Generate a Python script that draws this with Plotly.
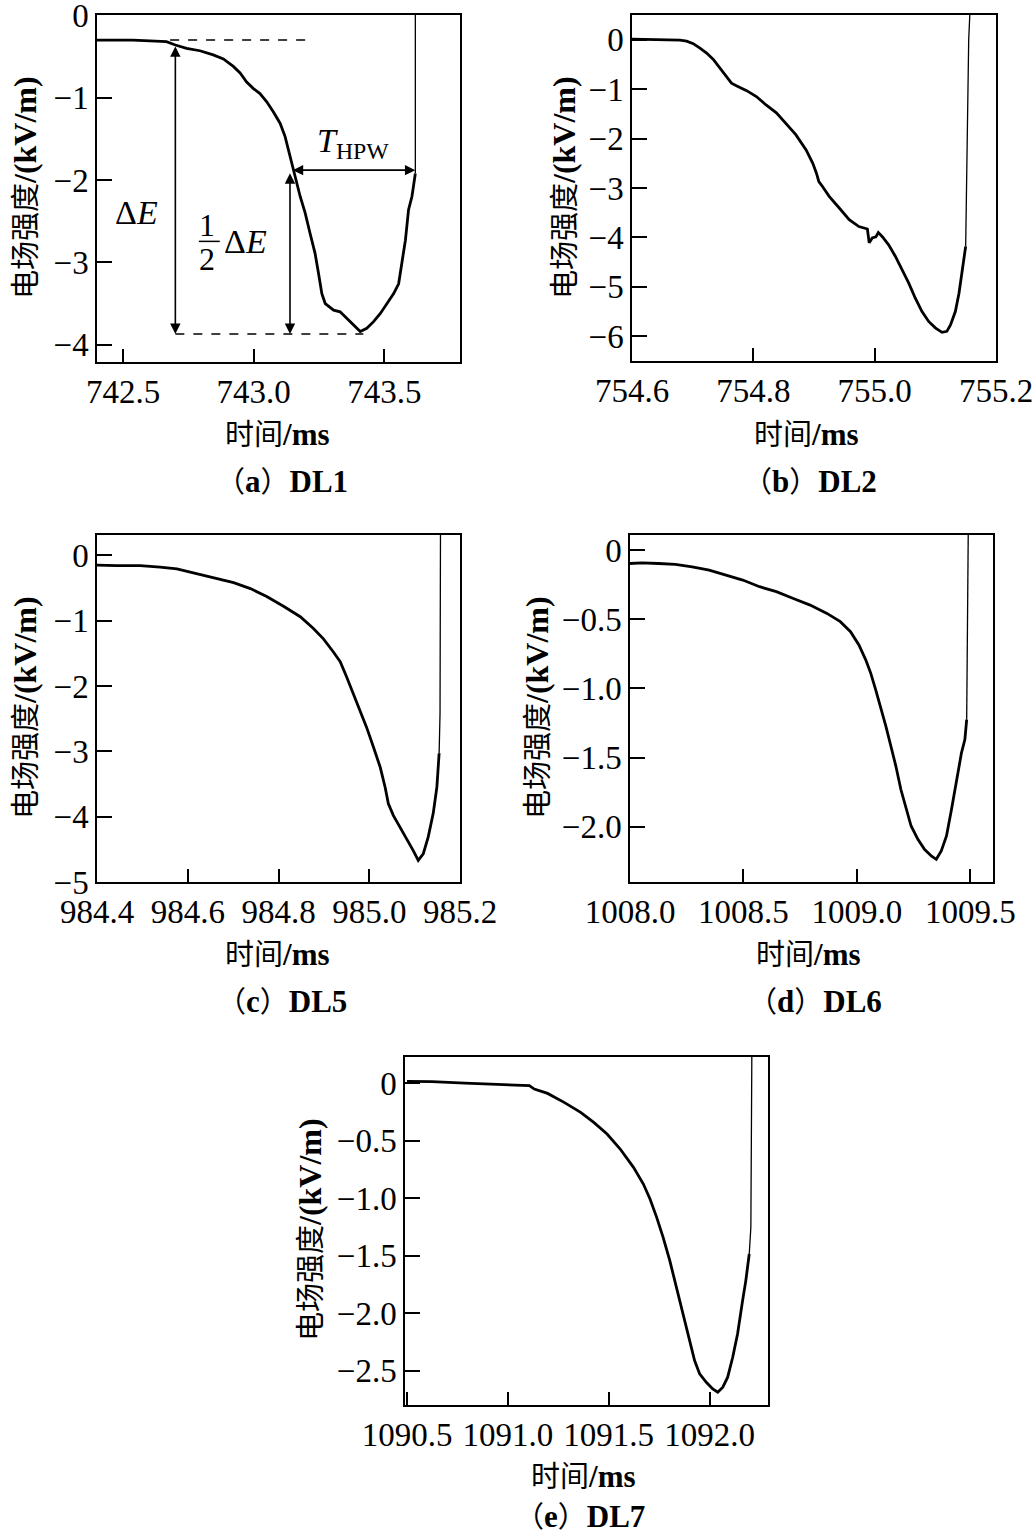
import plotly.graph_objects as go

# ---------------- data ----------------
# (a) DL1
t_a = [742.398, 742.538, 742.666, 742.700, 742.743, 742.794, 742.845, 742.884, 742.922, 742.948,
       742.973, 742.999, 743.024, 743.050, 743.075, 743.101, 743.120, 743.133, 743.146, 743.159,
       743.178, 743.197, 743.216, 743.235, 743.248, 743.261, 743.274, 743.306, 743.331, 743.357,
       743.382, 743.408, 743.433, 743.459, 743.485, 743.510, 743.536, 743.555, 743.568, 743.581,
       743.593, 743.606, 743.619]
e_a = [-0.30, -0.30, -0.32, -0.36, -0.40, -0.43, -0.48, -0.53, -0.62, -0.70,
       -0.81, -0.89, -0.95, -1.05, -1.17, -1.31, -1.47, -1.64, -1.82, -1.96,
       -2.20, -2.40, -2.65, -2.89, -3.13, -3.38, -3.50, -3.58, -3.60, -3.68,
       -3.76, -3.84, -3.80, -3.72, -3.62, -3.50, -3.38, -3.26, -3.01, -2.73,
       -2.36, -2.20, -1.92]
rs_t_a = [743.619, 743.619]
rs_e_a = [-1.92, 0.5]

# (b) DL2
t_b = [754.600, 754.652, 754.679, 754.690, 754.701, 754.712, 754.723, 754.734, 754.745, 754.756,
       754.764, 754.772, 754.789, 754.805, 754.821, 754.838, 754.854, 754.870, 754.887, 754.898,
       754.904, 754.908, 754.914, 754.925, 754.942, 754.958, 754.974, 754.988, 754.991, 754.996,
       755.002, 755.006, 755.013, 755.023, 755.034, 755.045, 755.056, 755.067, 755.078, 755.089,
       755.100, 755.111, 755.119, 755.125, 755.133, 755.139, 755.144, 755.148, 755.150]
e_b = [0.01, 0.00, -0.01, -0.03, -0.08, -0.17, -0.27, -0.40, -0.57, -0.74,
       -0.88, -0.93, -1.03, -1.15, -1.32, -1.48, -1.69, -1.92, -2.23, -2.50,
       -2.70, -2.87, -2.97, -3.17, -3.41, -3.64, -3.78, -3.83, -4.11, -4.01,
       -3.99, -3.90, -3.99, -4.15, -4.38, -4.65, -4.92, -5.23, -5.50, -5.70,
       -5.83, -5.92, -5.90, -5.77, -5.50, -5.13, -4.72, -4.38, -4.18]
rs_t_b = [755.150, 755.152, 755.155, 755.157]
rs_e_b = [-4.18, -2.09, 0.0, 0.55]

# (c) DL5
t_c = [984.400, 984.444, 984.495, 984.539, 984.576, 984.613, 984.657, 984.701, 984.738, 984.774,
       984.811, 984.848, 984.877, 984.899, 984.921, 984.936, 984.950, 984.965, 984.980, 984.994,
       985.009, 985.024, 985.035, 985.042, 985.053, 985.068, 985.083, 985.097, 985.108, 985.119,
       985.130, 985.141, 985.149, 985.154]
e_c = [-0.15, -0.16, -0.16, -0.18, -0.21, -0.27, -0.34, -0.42, -0.51, -0.63,
       -0.78, -0.94, -1.12, -1.28, -1.48, -1.63, -1.86, -2.12, -2.37, -2.63,
       -2.93, -3.24, -3.55, -3.80, -3.98, -4.16, -4.34, -4.52, -4.67, -4.57,
       -4.31, -3.95, -3.55, -3.03]
rs_t_c = [985.154, 985.156, 985.157]
rs_e_c = [-3.03, -2.42, 0.4]

# (d) DL6
t_d = [1008.000, 1008.052, 1008.126, 1008.200, 1008.274, 1008.349, 1008.423, 1008.497, 1008.571, 1008.645,
       1008.720, 1008.794, 1008.868, 1008.927, 1008.972, 1009.009, 1009.039, 1009.061, 1009.083, 1009.105,
       1009.128, 1009.150, 1009.172, 1009.194, 1009.217, 1009.239, 1009.269, 1009.298, 1009.328, 1009.350,
       1009.372, 1009.395, 1009.417, 1009.439, 1009.461, 1009.476, 1009.484]
e_d = [-0.096, -0.091, -0.096, -0.103, -0.120, -0.144, -0.180, -0.216, -0.264, -0.300,
       -0.349, -0.397, -0.457, -0.517, -0.589, -0.685, -0.793, -0.889, -1.010, -1.130,
       -1.274, -1.418, -1.563, -1.731, -1.875, -1.995, -2.091, -2.163, -2.212, -2.236,
       -2.175, -2.067, -1.875, -1.659, -1.466, -1.370, -1.226]
rs_t_d = [1009.484, 1009.488, 1009.491]
rs_e_d = [-1.226, -0.505, 0.15]

# (e) DL7
t_e = [1090.500, 1090.623, 1090.787, 1090.951, 1091.033, 1091.107, 1091.131, 1091.197, 1091.279, 1091.361,
       1091.426, 1091.492, 1091.557, 1091.623, 1091.672, 1091.705, 1091.738, 1091.770, 1091.803, 1091.836,
       1091.869, 1091.902, 1091.926, 1091.951, 1091.984, 1092.016, 1092.041, 1092.066, 1092.090, 1092.115,
       1092.139, 1092.164, 1092.180, 1092.197]
e_e = [0.017, 0.015, 0.003, -0.012, -0.014, -0.020, -0.049, -0.087, -0.165, -0.252,
       -0.339, -0.441, -0.571, -0.731, -0.876, -1.006, -1.166, -1.340, -1.543, -1.775,
       -2.007, -2.239, -2.413, -2.529, -2.602, -2.660, -2.688, -2.645, -2.558, -2.384,
       -2.181, -1.891, -1.717, -1.485]
rs_t_e = [1092.197, 1092.205, 1092.210]
rs_e_e = [-1.485, -1.253, 0.3]

# tick values / labels
xt_a = [742.5, 743.0, 743.5]; xl_a = ["742.5", "743.0", "743.5"]
yt_a = [0, -1, -2, -3, -4]; yl_a = ["0", "\u22121", "\u22122", "\u22123", "\u22124"]
xt_b = [754.6, 754.8, 755.0, 755.2]; xl_b = ["754.6", "754.8", "755.0", "755.2"]
yt_b = [0, -1, -2, -3, -4, -5, -6]; yl_b = ["0", "\u22121", "\u22122", "\u22123", "\u22124", "\u22125", "\u22126"]
xt_c = [984.4, 984.6, 984.8, 985.0, 985.2]; xl_c = ["984.4", "984.6", "984.8", "985.0", "985.2"]
yt_c = [0, -1, -2, -3, -4, -5]; yl_c = ["0", "\u22121", "\u22122", "\u22123", "\u22124", "\u22125"]
xt_d = [1008.0, 1008.5, 1009.0, 1009.5]; xl_d = ["1008.0", "1008.5", "1009.0", "1009.5"]
yt_d = [0, -0.5, -1.0, -1.5, -2.0]; yl_d = ["0", "\u22120.5", "\u22121.0", "\u22121.5", "\u22122.0"]
xt_e = [1090.5, 1091.0, 1091.5, 1092.0]; xl_e = ["1090.5", "1091.0", "1091.5", "1092.0"]
yt_e = [0, -0.5, -1.0, -1.5, -2.0, -2.5]; yl_e = ["0", "\u22120.5", "\u22121.0", "\u22121.5", "\u22122.0", "\u22122.5"]

caption_tags = ["a", "b", "c", "d", "e"]
caption_names = ["DL1", "DL2", "DL5", "DL6", "DL7"]
x_title_cn, x_title_en = "时间", "/ms"
y_title_cn, y_title_en = "电场强度", "/(kV/m)"

# annotation values for panel (a)
E_base = -0.30       # pre-stroke level
E_min = -3.87        # minimum field
E_half = -1.88       # half-amplitude level
t_onset = 742.70
t_half = 743.139
t_end = 743.619

# ---------------- layout ----------------
W, H = 1035, 1536
FONT = "Liberation Serif, 'Times New Roman', 'Noto Sans CJK SC', serif"
CJK = "font-family:'Noto Sans CJK SC';font-size:29px"


def cn(s):
    return '<span style="%s">%s</span>' % (CJK, s)


x_title = cn(x_title_cn) + "<b>" + x_title_en + "</b>"
y_title = cn(y_title_cn) + "<b>" + y_title_en + "</b>"
captions = [cn("（") + "<b>" + c + "</b>" + cn("）") + "<b>" + nme + "</b>"
            for c, nme in zip(caption_tags, caption_names)]

# pixel boxes: (left, right, top, bottom)
boxes = [(97, 460, 15, 362), (632, 996, 15, 361), (97, 460, 535, 882),
         (630, 993, 535, 882), (405, 768, 1057, 1405)]
xranges = [[742.40, 743.79], [754.6, 755.2], [984.4, 985.2], [1008.0, 1009.6], [1090.49, 1092.29]]
yranges = [[-4.21, 0.004], [-6.5, 0.5], [-5.0, 0.31], [-2.40, 0.11], [-2.80, 0.23]]
series = [(t_a, e_a, rs_t_a, rs_e_a), (t_b, e_b, rs_t_b, rs_e_b), (t_c, e_c, rs_t_c, rs_e_c),
          (t_d, e_d, rs_t_d, rs_e_d), (t_e, e_e, rs_t_e, rs_e_e)]
ticks = [(xt_a, xl_a, yt_a, yl_a), (xt_b, xl_b, yt_b, yl_b), (xt_c, xl_c, yt_c, yl_c),
         (xt_d, xl_d, yt_d, yl_d), (xt_e, xl_e, yt_e, yl_e)]
# label positions in pixels: (xtitle_x, xtitle_y, caption_x, caption_y, ytitle_x, ytitle_y)
labpos = [(277, 432, 282, 479, 23, 188), (806, 432, 810, 479, 562, 188),
          (277, 952, 282, 999, 23, 708), (808, 952, 815, 999, 535, 708),
          (583, 1474, 580, 1514, 308, 1230)]

fig = go.Figure()
layout = dict(width=W, height=H, margin=dict(l=0, r=0, t=0, b=0, pad=0, autoexpand=False),
              paper_bgcolor="white", plot_bgcolor="white", showlegend=False,
              font=dict(family=FONT, color="black", size=31))
annotations = []
shapes = []

for i in range(5):
    n = "" if i == 0 else str(i + 1)
    L, R, T, B = boxes[i]
    t, e, rt, re_ = series[i]
    fig.add_trace(go.Scatter(x=t, y=e, mode="lines", line=dict(color="black", width=2.8),
                             xaxis="x" + n, yaxis="y" + n, hoverinfo="skip"))
    fig.add_trace(go.Scatter(x=rt, y=re_, mode="lines", line=dict(color="black", width=1.3),
                             xaxis="x" + n, yaxis="y" + n, hoverinfo="skip"))
    xt, xl, yt, yl = ticks[i]
    common = dict(showline=True, linecolor="black", linewidth=1.5, mirror=True, showgrid=False,
                  zeroline=False, ticks="inside", tickcolor="black", tickwidth=1.5, automargin=False,
                  ticklabeloverflow="allow", tickfont=dict(family=FONT, size=33, color="black"))
    layout["xaxis" + n] = dict(domain=[L / W, R / W], range=xranges[i], anchor="y" + n,
                               tickvals=xt, ticktext=xl, ticklen=13, **common)
    layout["yaxis" + n] = dict(domain=[1 - B / H, 1 - T / H], range=yranges[i], anchor="x" + n,
                               tickvals=yt, ticktext=yl, ticklen=15, **common)
    xtx, xty, cx, cy, ytx, yty = labpos[i]
    annotations.append(dict(text=x_title, x=xtx / W, y=1 - xty / H, xref="paper", yref="paper",
                            showarrow=False, font=dict(size=31), xanchor="center", yanchor="middle"))
    annotations.append(dict(text=captions[i], x=cx / W, y=1 - cy / H, xref="paper", yref="paper",
                            showarrow=False, font=dict(size=31), xanchor="center", yanchor="middle"))
    annotations.append(dict(text=y_title, x=ytx / W, y=1 - yty / H, xref="paper", yref="paper",
                            showarrow=False, textangle=-90, font=dict(size=32),
                            xanchor="center", yanchor="middle"))

# ---- panel (a) annotations ----
dash = dict(color="black", width=1.5, dash="dash")
shapes.append(dict(type="line", xref="x", yref="y", x0=742.68, x1=743.22, y0=E_base, y1=E_base, line=dash))
shapes.append(dict(type="line", xref="x", yref="y", x0=t_onset, x1=743.42, y0=E_min, y1=E_min, line=dash))

arrow = dict(showarrow=True, arrowhead=2, startarrowhead=2, arrowside="end+start", arrowsize=1.3,
             startarrowsize=1.3, arrowwidth=1.6, arrowcolor="black", axref="x", ayref="y",
             xref="x", yref="y", text="", standoff=0, startstandoff=0)
annotations.append(dict(x=t_onset, y=E_min, ax=t_onset, ay=-0.36, **arrow))
annotations.append(dict(x=t_half, y=E_min, ax=t_half, ay=E_half - 0.02, **arrow))
annotations.append(dict(x=t_end, y=E_half, ax=t_half + 0.005, ay=E_half, **arrow))

annotations.append(dict(text="Δ<i>E</i>", x=742.55, y=-2.40, xref="x", yref="y", showarrow=False,
                        font=dict(size=34), xanchor="center", yanchor="middle"))
annotations.append(dict(text="1", x=742.82, y=-2.55, xref="x", yref="y", showarrow=False,
                        font=dict(size=32), xanchor="center", yanchor="middle"))
annotations.append(dict(text="2", x=742.82, y=-2.96, xref="x", yref="y", showarrow=False,
                        font=dict(size=32), xanchor="center", yanchor="middle"))
shapes.append(dict(type="line", xref="x", yref="y", x0=742.79, x1=742.87, y0=-2.745, y1=-2.745,
                   line=dict(color="black", width=1.5)))
annotations.append(dict(text="Δ<i>E</i>", x=742.97, y=-2.75, xref="x", yref="y", showarrow=False,
                        font=dict(size=34), xanchor="center", yanchor="middle"))
annotations.append(dict(text="<i>T</i><sub>HPW</sub>", x=743.38, y=-1.55, xref="x", yref="y",
                        showarrow=False, font=dict(size=34), xanchor="center", yanchor="middle"))

layout["annotations"] = annotations
layout["shapes"] = shapes
fig.update_layout(**layout)
# remove the browser's default 8px page margin so the figure sits at the window's top-left corner
fig.write_html("out.html", config={"displayModeBar": False},
               post_script="document.body.style.margin='0px';")
